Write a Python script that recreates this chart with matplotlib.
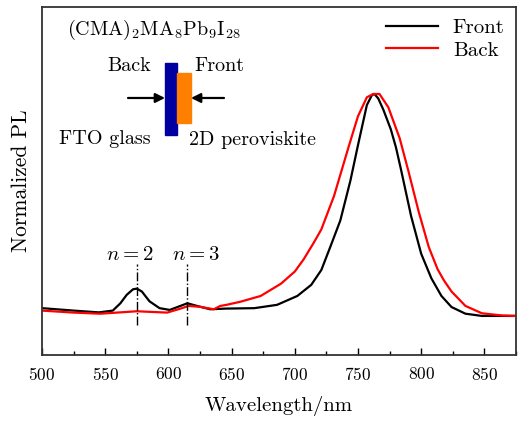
import matplotlib
matplotlib.use("Agg")
import matplotlib.pyplot as plt
from matplotlib.patches import Rectangle

plt.rcParams['font.family'] = ['cmr10', 'DejaVu Serif']
plt.rcParams['mathtext.fontset'] = 'cm'
plt.rcParams['axes.formatter.use_mathtext'] = True

front_nm = [500, 525, 545, 556, 562, 567, 572, 575, 579, 585, 593, 601, 609, 615, 622, 633,
            645, 668, 686, 702, 713, 721, 728, 736, 744, 750, 757, 761, 763, 766, 770, 776,
            780, 784, 792, 800, 808, 816, 824, 835, 848, 875]
front_pl = [0.035, 0.024, 0.016, 0.024, 0.057, 0.095, 0.12, 0.123, 0.11, 0.066, 0.035, 0.027,
            0.044, 0.057, 0.046, 0.03, 0.033, 0.035, 0.05, 0.09, 0.14, 0.207, 0.31, 0.43,
            0.61, 0.77, 0.95, 0.995, 1.0, 0.98, 0.93, 0.84, 0.76, 0.66, 0.45, 0.28, 0.17,
            0.09, 0.04, 0.01, 0.0, 0.0]
back_nm = [500, 525, 546, 575, 599, 609, 616, 625, 636, 641, 646, 657, 673, 689, 700, 707,
           715, 721, 731, 743, 750, 757, 762, 767, 774, 783, 790, 798, 806, 813, 818, 824,
           835, 848, 864, 875]
back_pl = [0.024, 0.015, 0.01, 0.021, 0.015, 0.032, 0.045, 0.041, 0.03, 0.045, 0.05, 0.064,
           0.09, 0.145, 0.2, 0.255, 0.33, 0.39, 0.54, 0.77, 0.90, 0.985, 1.0, 1.0, 0.94,
           0.80, 0.65, 0.47, 0.31, 0.21, 0.16, 0.11, 0.045, 0.012, 0.002, 0.0]
n_positions = [575, 615]
n_label_x = [569, 621.5]
n_labels = [r'$n=2$', r'$n=3$']

fig = plt.figure(figsize=(5.22, 4.21), dpi=100)
ax = fig.add_axes([0.0805, 0.1568, 0.908, 0.8266])

ax.plot(front_nm, front_pl, color='black', lw=1.6, label='Front')
ax.plot(back_nm, back_pl, color='red', lw=1.6, label='Back')

for xp, xl, lab in zip(n_positions, n_label_x, n_labels):
    ax.plot([xp, xp], [-0.04, 0.235], color='black', lw=1.0, ls='-.')
    ax.text(xl, 0.236, lab, ha='center', va='bottom', fontsize=15)

ax.set_xlim(500, 875)
ax.set_ylim(-0.176, 1.392)
ax.set_xticks(range(500, 876, 50))
ax.set_xticks(range(525, 876, 50), minor=True)
ax.set_yticks([])
ax.tick_params(axis='x', which='major', direction='in', length=5, width=1, labelsize=12.5, pad=8)
ax.tick_params(axis='x', which='minor', direction='in', length=3, width=1)
for s in ax.spines.values():
    s.set_linewidth(1.3)
    s.set_color('#333333')

ax.set_xlabel('Wavelength/nm', fontsize=15, labelpad=9)
ax.set_ylabel('Normalized PL', fontsize=15.5, labelpad=8)

leg = ax.legend(loc='upper right', frameon=False, fontsize=15, handlelength=2.5,
                borderaxespad=0.15, labelspacing=0.2, handletextpad=0.7)

# formula and device schematic (axes fraction coordinates)
ax.text(0.053, 0.935, r'(CMA)$_2$MA$_8$Pb$_9$I$_{28}$', transform=ax.transAxes,
        fontsize=14.5, va='center', ha='left')

def fx(px):
    return (px - 42) / (516 - 42)

def fy(py):
    return (355 - py) / (355 - 7)

ax.add_patch(Rectangle((fx(165), fy(135)), fx(177) - fx(165), fy(63) - fy(135),
                       transform=ax.transAxes, color='#0000A0', zorder=3))
ax.add_patch(Rectangle((fx(177), fy(123)), fx(190.5) - fx(177), fy(73) - fy(123),
                       transform=ax.transAxes, color='#FF8000', zorder=3))
ax.annotate('', xy=(fx(165), fy(98)), xytext=(fx(128), fy(98)), xycoords='axes fraction',
            arrowprops=dict(arrowstyle='-|>', color='black', lw=1.6, mutation_scale=14,
                            shrinkA=0, shrinkB=0))
ax.annotate('', xy=(fx(191), fy(98)), xytext=(fx(224), fy(98)), xycoords='axes fraction',
            arrowprops=dict(arrowstyle='-|>', color='black', lw=1.6, mutation_scale=14,
                            shrinkA=0, shrinkB=0))
ax.text(fx(129), fy(66), 'Back', transform=ax.transAxes, fontsize=14.5, ha='center', va='center')
ax.text(fx(219), fy(66), 'Front', transform=ax.transAxes, fontsize=14.5, ha='center', va='center')
ax.text(fx(105), fy(139), 'FTO glass', transform=ax.transAxes, fontsize=14.5, ha='center', va='center')
ax.text(fx(252), fy(140), '2D peroviskite', transform=ax.transAxes, fontsize=14.5, ha='center', va='center')

fig.savefig('out.png', dpi=100)
